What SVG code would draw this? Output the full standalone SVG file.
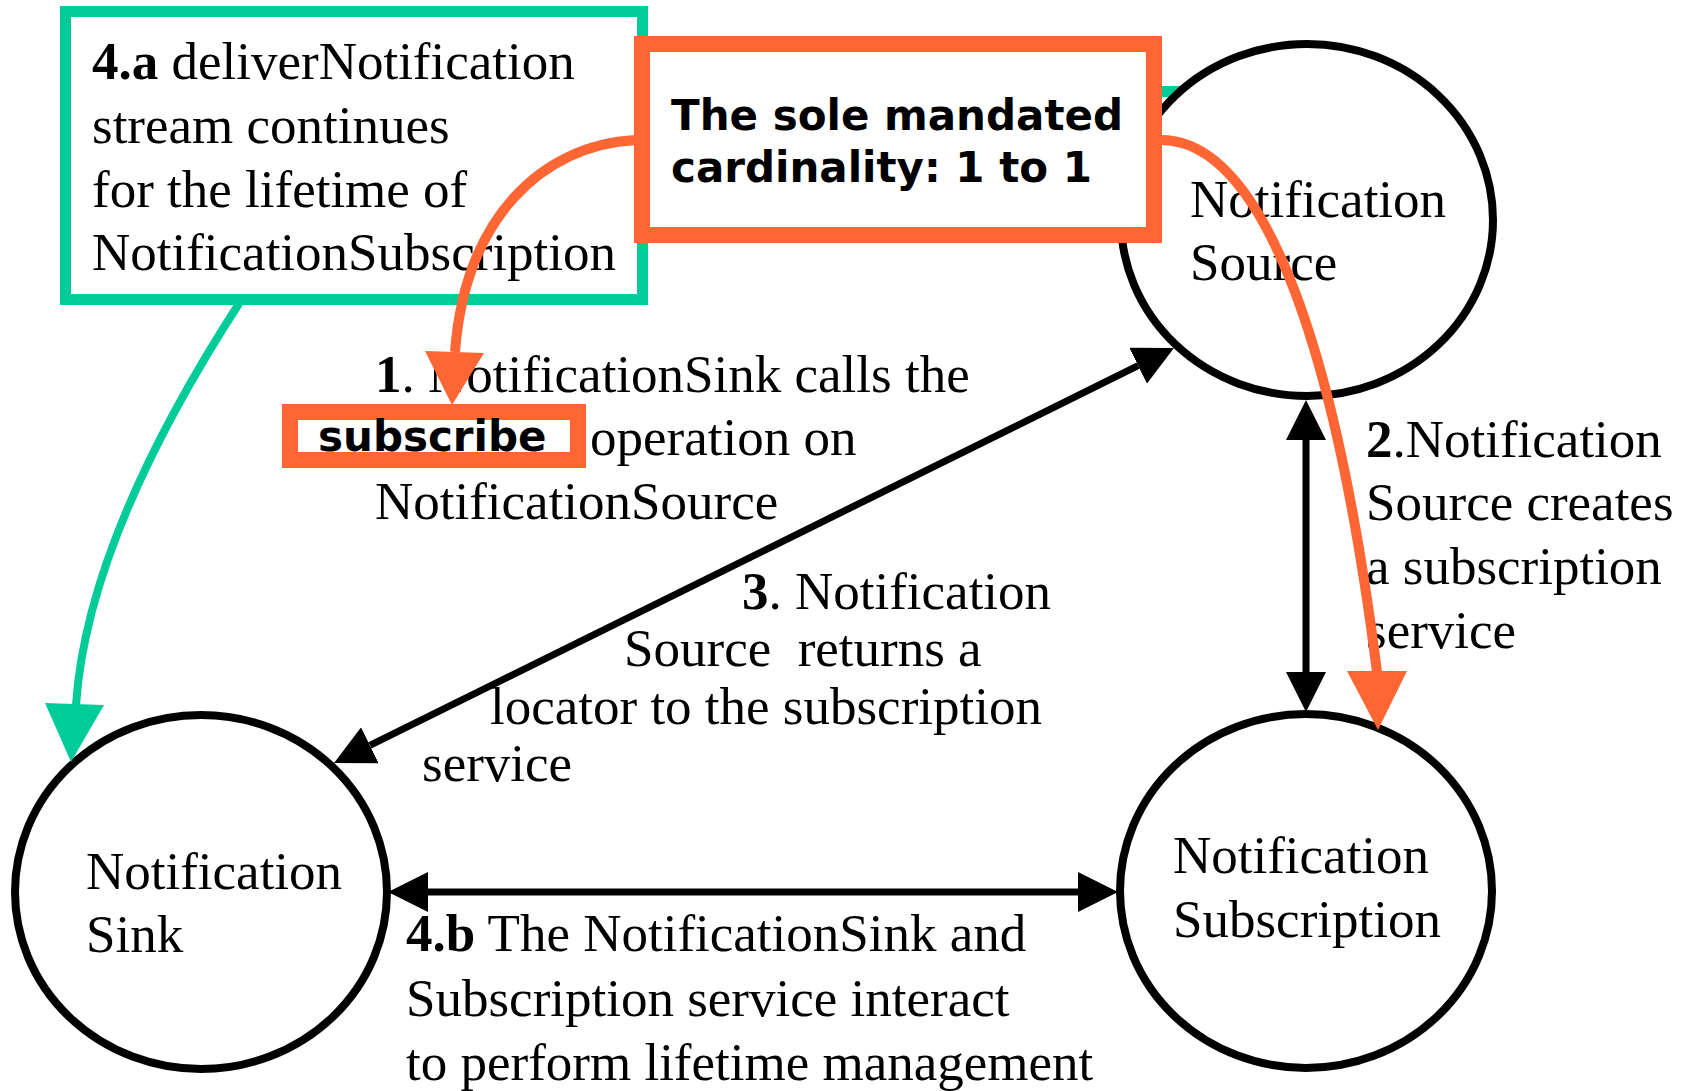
<svg xmlns="http://www.w3.org/2000/svg" width="1695" height="1091" viewBox="0 0 1695 1091">
<style>
.t{font-family:"Liberation Serif","Times New Roman",serif;font-size:53px;fill:#000}
.b{font-weight:bold}
.s{font-family:"DejaVu Sans",Verdana,sans-serif;font-size:42px;font-weight:bold;fill:#000}
.node{fill:#fff;stroke:#000;stroke-width:8}
.blk{fill:none;stroke:#000;stroke-width:7}
.org{fill:none;stroke:#FF6633;stroke-width:10}
.tel{fill:none;stroke:#00CC99;stroke-width:8}
</style>
<defs>
<marker id="ah" viewBox="0 0 40 40" refX="0" refY="20" markerWidth="40" markerHeight="40" markerUnits="userSpaceOnUse" orient="auto-start-reverse">
<path d="M0,0 L40,20 L0,40 z" fill="#000"/>
</marker>
</defs>
<rect width="1695" height="1091" fill="#fff"/>

<g id="note-4a">
<rect x="65.5" y="11.5" width="577" height="288" fill="#fff" stroke="#00CC99" stroke-width="11"/>
<text class="t" x="92" y="79"><tspan class="b">4.a</tspan> deliverNotification</text>
<text class="t" x="92" y="143">stream continues</text>
<text class="t" x="92" y="207">for the lifetime of</text>
<text class="t" x="92" y="270">NotificationSubscription</text>
</g>

<rect x="1158" y="86" width="24" height="11" fill="#00CC99"/>

<g id="node-source">
<ellipse class="node" cx="1307" cy="220" rx="186" ry="176"/>
<text class="t" x="1190" y="217">Notification</text>
<text class="t" x="1190" y="280">Source</text>
</g>

<g id="node-sink">
<ellipse class="node" cx="201" cy="892" rx="186" ry="177"/>
<text class="t" x="86" y="889">Notification</text>
<text class="t" x="86" y="952">Sink</text>
</g>

<g id="node-subscription">
<ellipse class="node" cx="1306" cy="891" rx="186" ry="177"/>
<text class="t" x="1173" y="873">Notification</text>
<text class="t" x="1173" y="937">Subscription</text>
</g>

<g id="note-cardinality">
<rect x="642" y="44" width="512" height="191" fill="#fff" stroke="#FF6633" stroke-width="16"/>
<text class="s" x="671" y="130">The sole mandated</text>
<text class="s" x="671" y="182">cardinality: 1 to 1</text>
</g>

<g id="labels">
<text class="t" x="375" y="392"><tspan class="b">1</tspan>. NotificationSink calls the</text>
<text class="t" x="590" y="455">operation on</text>
<text class="t" x="375" y="519">NotificationSource</text>
<text class="t" x="1366" y="457"><tspan class="b">2</tspan>.Notification</text>
<text class="t" x="1366" y="520">Source creates</text>
<text class="t" x="1366" y="584">a subscription</text>
<text class="t" x="1366" y="648">service</text>
<text class="t" x="742" y="609"><tspan class="b">3</tspan>. Notification</text>
<text class="t" x="624" y="666" style="white-space:pre">Source  returns a</text>
<text class="t" x="490" y="724">locator to the subscription</text>
<text class="t" x="422" y="781">service</text>
<text class="t" x="406" y="951"><tspan class="b">4.b</tspan> The NotificationSink and</text>
<text class="t" x="406" y="1016">Subscription service interact</text>
<text class="t" x="406" y="1080">to perform lifetime management</text>
</g>

<g id="subscribe-box">
<rect x="290" y="412" width="288" height="48" fill="#fff" stroke="#FF6633" stroke-width="16"/>
<text class="s" x="318" y="451">subscribe</text>
</g>

<g id="connectors">
<line class="blk" x1="369.9" y1="745.3" x2="1138.1" y2="365.7" marker-start="url(#ah)" marker-end="url(#ah)"/>
<line class="blk" x1="1306" y1="440" x2="1306" y2="672" marker-start="url(#ah)" marker-end="url(#ah)"/>
<line class="blk" x1="428" y1="892" x2="1078" y2="892" marker-start="url(#ah)" marker-end="url(#ah)"/>
<path class="org" d="M636,140 C540,145 465,220 455,352"/>
<polygon points="425,351 484,353 452,405" fill="#FF6633"/>
<path class="org" d="M1161,140 C1250,140 1330,300 1377,672"/>
<polygon points="1347,671 1407,671 1378,730" fill="#FF6633"/>
<path class="tel" d="M240,302 Q87,538 76,705"/>
<polygon points="45,703 104,705 71,762" fill="#00CC99"/>
</g>
</svg>
